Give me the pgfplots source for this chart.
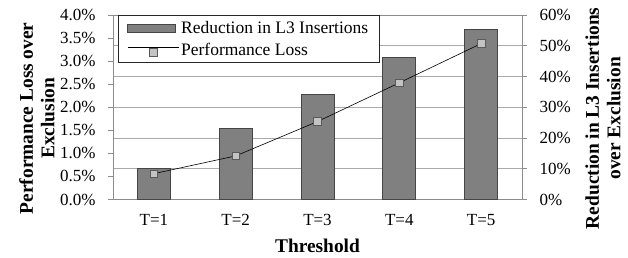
\documentclass[border=0pt]{standalone}
\usepackage{pgfplots}
\pgfplotsset{compat=1.18}
\usepackage{fontspec}
\setmainfont{Liberation Serif}
\definecolor{barfill}{RGB}{128,128,128}
\definecolor{baredge}{RGB}{70,70,70}
\definecolor{gridc}{RGB}{170,170,170}
\definecolor{axisc}{RGB}{140,140,140}
\definecolor{markfill}{RGB}{195,195,195}
\definecolor{markedge}{RGB}{90,90,90}
\newcommand{\tickfont}{\fontsize{17}{20}\selectfont}
\newcommand{\legfont}{\fontsize{17.5}{20}\selectfont}
\newcommand{\labfont}{\fontsize{19.4}{21.5}\selectfont\bfseries}
\begin{document}
\begin{tikzpicture}
\pgfplotsset{
  common/.style={
    scale only axis, width=409pt, height=184.5pt,
    xmin=-0.5, xmax=4.5,
    tick align=outside,
    /pgf/number format/assume math mode=true,
    tick label style={font=\tickfont},
    label style={font=\labfont},
    axis line style={draw=axisc},
    major tick style={draw=axisc, thick},
    major tick length=5pt,
  }
}
% Axis 1: bars on right axis
\begin{axis}[common, name=ax,
  ymin=0, ymax=60,
  ytick={0,10,...,60},
  ytick pos=right,
  yticklabel={\pgfmathprintnumber{\tick}\%},
  yticklabel style={anchor=west, xshift=9pt},
  xtick={0,1,2,3,4},
  xticklabels={T=1,T=2,T=3,T=4,T=5},
  xticklabel style={yshift=-6pt},
  xtick pos=bottom,
  xtick style={draw=none},
  extra x ticks={-0.5,0.5,1.5,2.5,3.5,4.5},
  extra x tick labels={},
  extra x tick style={grid=none, major tick style={draw=axisc, thick}},
  ymajorgrids, grid style={draw=gridc, line width=0.8pt},
  xlabel={Threshold},
  xlabel style={at={(axis description cs:0.5,-0.252)}, anchor=center},
  ylabel={Reduction in L3 Insertions\\over Exclusion},
  ylabel style={at={(axis description cs:1.198,0.44)}, anchor=center, align=center},
]
\addplot[ybar, bar width=33pt, fill=barfill, draw=baredge, line width=0.8pt] coordinates {
  (0,10.0) (1,23.2) (2,34.1) (3,46.1) (4,55.2)
};
\end{axis}
% Axis 2: line on left axis
\begin{axis}[common,
  axis x line=none, axis y line*=left,
  ymin=0, ymax=4,
  ytick={0,0.5,...,4},
  yticklabel={\pgfmathprintnumber[fixed,fixed zerofill,precision=1]{\tick}\%},
  yticklabel style={anchor=east, xshift=-9pt},
  ylabel={Performance Loss over\\Exclusion},
  ylabel style={at={(axis description cs:-0.186,0.44)}, anchor=center, align=center},
  legend style={at={(axis description cs:0.0125,1)}, anchor=north west,
    draw=black!85, line width=0.6pt, fill=white, font=\legfont,
    inner xsep=9pt, inner ysep=4pt, row sep=4pt,
    nodes={inner sep=2pt, font=\legfont}},
  legend cell align=left,
]
\addlegendimage{legend image code/.code={\draw[fill=barfill, draw=baredge, line width=0.8pt] (0pt,-4pt) rectangle (48pt,4pt);}}
\addlegendentry{\legfont Reduction in L3 Insertions}
\addplot[black, line width=0.6pt, mark=square*, mark size=3.8pt,
  mark options={fill=markfill, draw=markedge, line width=0.6pt},
  legend image code/.code={\draw[black, line width=0.6pt] (0pt,3pt) -- (51pt,3pt);
    \draw[fill=markfill, draw=markedge, line width=0.6pt] (21.7pt,-6pt) rectangle (29.3pt,1.6pt);}]
  coordinates {(0,0.56) (1,0.945) (2,1.69) (3,2.53) (4,3.38)};
\addlegendentry{\legfont Performance Loss}
\end{axis}
\pgfresetboundingbox
\path[use as bounding box] ([shift={(-113pt,-58.5pt)}]ax.south west) rectangle ([shift={(106pt,15pt)}]ax.north east);
\end{tikzpicture}
\end{document}
